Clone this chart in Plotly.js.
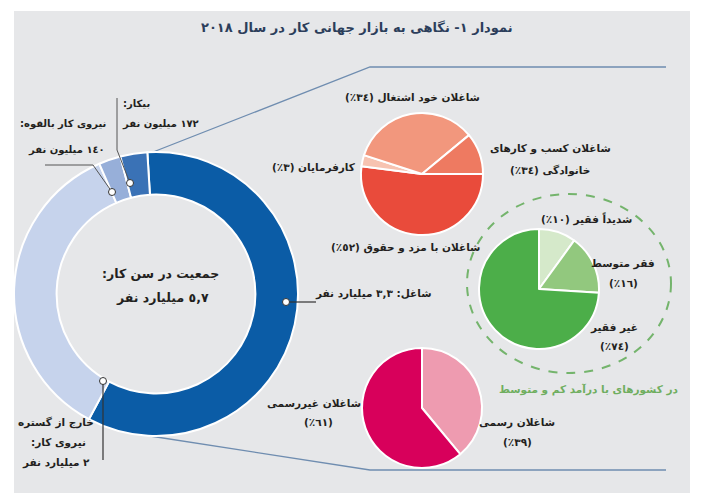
<!DOCTYPE html>
<html>
<head>
<meta charset="utf-8">
<script src="https://cdn.plot.ly/plotly-3.0.1.min.js"></script>
<style>html,body{margin:0;padding:0;background:#fff;}#chart{width:706px;height:503px;}</style>
</head>
<body>
<div id="chart"></div>
<script>
// ---- data ----
const titleText = 'نمودار ١- نگاهی به بازار جهانی کار در سال ٢٠١٨';

const donutCategories = ['شاغل', 'خارج از گستره نیروی کار', 'نیروی کار بالقوه', 'بیکار'];
const donutValues = [3.3, 2.0, 0.14, 0.172];   // billion people
const donutColors = ['#0b5ca6', '#c6d3ec', '#97afd9', '#3a72b6'];

const statusCategories = ['شاغلان با مزد و حقوق', 'کارفرمایان', 'شاغلان خود اشتغال', 'شاغلان کسب و کارهای خانوادگی'];
const statusValues = [52, 3, 34, 11];
const statusColors = ['#e94b3b', '#f7c3b1', '#f2977d', '#ee7a61'];

const povertyCategories = ['شدیداً فقیر', 'فقر متوسط', 'غیر فقیر'];
const povertyValues = [10, 16, 74];
const povertyColors = ['#d5e9ca', '#92c87e', '#4cae49'];

const formalCategories = ['شاغلان رسمی', 'شاغلان غیررسمی'];
const formalValues = [39, 61];
const formalColors = ['#ee9bb0', '#d8005b'];

const centerLines = ['جمعیت در سن کار:', '٥,٧ میلیارد نفر'];
const employedLabel = 'شاغل: ٣,٣ میلیارد نفر';
const unemployedLines = ['بیکار:', '١٧٢ میلیون نفر'];
const potentialLines = ['نیروی کار بالقوه:', '١٤٠ میلیون نفر'];
const outsideLines = ['خارج از گستره', 'نیروی کار:', '٢ میلیارد نفر'];
const statusLabels = ['شاغلان با مزد و حقوق (٥٢٪)', 'کارفرمایان (٣٪)', 'شاغلان خود اشتغال (٣٤٪)', 'شاغلان کسب و کارهای', 'خانوادگی (٣٤٪)'];
const povertyLabels = ['شدیداً فقیر (١٠٪)', 'فقر متوسط', '(١٦٪)', 'غیر فقیر', '(٧٤٪)'];
const regionNote = 'در کشورهای با درآمد کم و متوسط';
const formalLabels = ['شاغلان رسمی', '(٣٩٪)', 'شاغلان غیررسمی', '(٦١٪)'];

// ---- layout helpers ----
const W = 706, H = 503;
function dom(cx, cy, r) {
  return { x: [(cx - r) / W, (cx + r) / W], y: [1 - (cy + r) / H, 1 - (cy - r) / H] };
}
function pie(labels, values, colors, cx, cy, r, rot, hole) {
  return {
    type: 'pie', labels: labels, values: values, sort: false, direction: 'clockwise',
    rotation: rot, hole: hole || 0, domain: dom(cx, cy, r), textinfo: 'none',
    hoverinfo: 'label+value', showlegend: false,
    marker: { colors: colors, line: { color: '#ffffff', width: 2 } }
  };
}

const data = [
  pie(donutCategories, donutValues, donutColors, 156, 294, 142, -3.5, 0.70),
  pie(statusCategories, statusValues, statusColors, 422, 174, 61, 90),
  pie(povertyCategories, povertyValues, povertyColors, 539, 289, 60, 0),
  pie(formalCategories, formalValues, formalColors, 422, 408, 60, 0)
];

const lineCol = '#6f8db0';
const dark = '#231f20';
const shapes = [
  { type: 'rect', xref: 'x', yref: 'y', x0: 14, x1: 690, y0: 11, y1: 493, fillcolor: '#e6e7e9', line: { width: 0 }, layer: 'below' },
  { type: 'path', xref: 'x', yref: 'y', path: 'M148,154 L370,67 L666,67', line: { color: lineCol, width: 1.3 }, layer: 'below' },
  { type: 'path', xref: 'x', yref: 'y', path: 'M150,436 L370,470 L666,470', line: { color: lineCol, width: 1.3 }, layer: 'below' },
  { type: 'circle', xref: 'x', yref: 'y', x0: 467, x1: 671, y0: 194, y1: 373, line: { color: '#74b46c', width: 2, dash: 'dash' }, layer: 'below' },
  // leader lines
  { type: 'path', xref: 'x', yref: 'y', path: 'M117,98 L117,150 L130,183', line: { color: '#555', width: 1 } },
  { type: 'path', xref: 'x', yref: 'y', path: 'M45,165 L93,165 L112,192', line: { color: '#555', width: 1 } },
  { type: 'path', xref: 'x', yref: 'y', path: 'M286,302 L316,302', line: { color: '#333', width: 1.2 } },
  { type: 'path', xref: 'x', yref: 'y', path: 'M103,381 L103,460', line: { color: '#333', width: 1.2 } },
  // dots
  { type: 'circle', xref: 'x', yref: 'y', x0: 126.5, x1: 133.5, y0: 179.5, y1: 186.5, fillcolor: '#fff', line: { color: '#333', width: 1 } },
  { type: 'circle', xref: 'x', yref: 'y', x0: 108.5, x1: 115.5, y0: 188.5, y1: 195.5, fillcolor: '#fff', line: { color: '#333', width: 1 } },
  { type: 'circle', xref: 'x', yref: 'y', x0: 282.5, x1: 289.5, y0: 298.5, y1: 305.5, fillcolor: '#fff', line: { color: '#333', width: 1 } },
  { type: 'circle', xref: 'x', yref: 'y', x0: 99.5, x1: 106.5, y0: 377.5, y1: 384.5, fillcolor: '#fff', line: { color: '#333', width: 1 } }
];

const F = 'DejaVu Sans, Noto Sans, sans-serif';
function ann(text, x, y, size, color, xanchor) {
  return { text: '<b>\u202B' + text + '\u202C</b>', x: x, y: y, xref: 'x', yref: 'y', showarrow: false,
    xanchor: xanchor || 'center', yanchor: 'middle', font: { family: F, size: size || 10.5, color: color || dark } };
}
const annotations = [
  ann(titleText, 357, 27, 13, '#2c3e5b'),
  ann(centerLines[0], 160, 273, 12.5),
  ann(centerLines[1], 162, 297, 12.5),
  ann(employedLabel, 313, 293, 10.5, dark, 'left'),
  ann(unemployedLines[0], 121, 104, 10, dark, 'left'),
  ann(unemployedLines[1], 120, 124, 10, dark, 'left'),
  ann(potentialLines[0], 108, 124, 10, dark, 'right'),
  ann(potentialLines[1], 107, 150, 10, dark, 'right'),
  ann(outsideLines[0], 56, 422),
  ann(outsideLines[1], 58, 442),
  ann(outsideLines[2], 56, 462),
  ann(statusLabels[2], 412, 97),
  ann(statusLabels[1], 314, 167),
  ann(statusLabels[0], 405, 247),
  ann(statusLabels[3], 550, 148),
  ann(statusLabels[4], 550, 170),
  ann(povertyLabels[0], 586, 219),
  ann(povertyLabels[1], 623, 263),
  ann(povertyLabels[2], 623, 283),
  ann(povertyLabels[3], 614, 327),
  ann(povertyLabels[4], 614, 346),
  ann(regionNote, 589, 389, 10.5, '#6fae5f'),
  ann(formalLabels[2], 314, 403),
  ann(formalLabels[3], 318, 422),
  ann(formalLabels[0], 517, 422),
  ann(formalLabels[1], 517, 442)
];

const layout = {
  width: W, height: H,
  margin: { l: 0, r: 0, t: 0, b: 0 },
  paper_bgcolor: '#ffffff', plot_bgcolor: 'rgba(0,0,0,0)',
  xaxis: { range: [0, W], visible: false, fixedrange: true },
  yaxis: { range: [H, 0], visible: false, fixedrange: true },
  shapes: shapes, annotations: annotations, showlegend: false
};
Plotly.newPlot('chart', data, layout, { displayModeBar: false, staticPlot: true });
</script>
</body>
</html>
